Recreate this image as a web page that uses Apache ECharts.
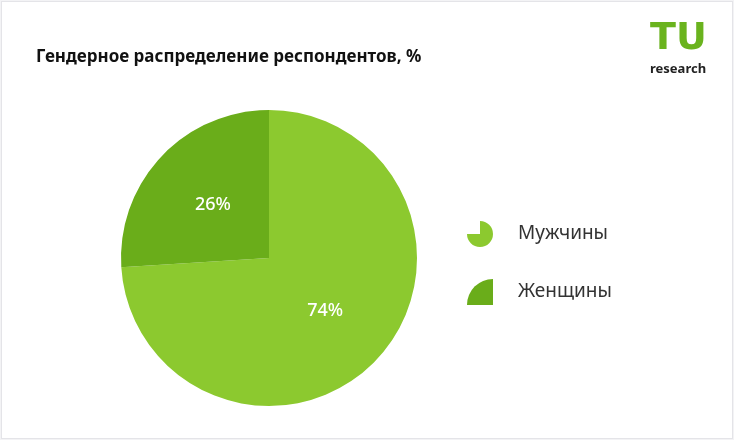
<!DOCTYPE html>
<html><head><meta charset="utf-8">
<script src="https://cdn.jsdelivr.net/npm/echarts@6/dist/echarts.min.js"></script>
<style>
html,body{margin:0;padding:0;background:#f3f3f5;}
#mybox{position:absolute;left:1px;top:1px;width:730px;height:436px;background:#fff;border:1px solid #e4e4e8;}
</style></head><body>
<div id="mybox"></div>
<script>
var categories = ['Мужчины', 'Женщины'];
var values = [74, 26];
var colors = ['#8cc92f', '#6aad1a'];

var icons = [
    'path://M10,10 L0,10 A10,10 0 1 0 10,0 Z',
    'path://M20,20 L0,20 A20,20 0 0 1 20,0 Z'
];

var mycharts = echarts.init(document.getElementById('mybox'));

var optionObj = {
    title: {
        text: 'Гендерное распределение респондентов, %',
        left: 29,
        top: 42,
        textStyle: { fontFamily: 'Noto Sans', fontSize: 17, fontWeight: 'bold', color: '#111' }
    },
    legend: {
        orient: 'vertical',
        left: 460,
        top: 214,
        itemGap: 32,
        itemWidth: 26,
        itemHeight: 26,
        textStyle: { fontFamily: 'Noto Sans', fontSize: 19, color: '#333', padding: [0, 0, 0, 20] },
        data: categories.map(function (c, i) { return { name: c, icon: icons[i] }; })
    },
    graphic: [
        { type: 'text', left: 648, top: 18, style: { text: 'TU', fontFamily: 'DejaVu Sans', fontWeight: 'bold', fontSize: 38, fill: '#6ab31e' } },
        { type: 'text', left: 648, top: 61, style: { text: 'research', fontFamily: 'Noto Sans', fontWeight: 'bold', fontSize: 13, fill: '#222' } }
    ],
    series: [{
        type: 'pie',
        center: [267, 256],
        radius: ['0%', 148],
        startAngle: 90,
        clockwise: true,
        label: {
            position: 'inside',
            formatter: '{c}%',
            fontFamily: 'Noto Sans',
            fontSize: 18,
            fontWeight: 500,
            color: '#fff'
        },
        labelLine: { show: false },
        emphasis: { disabled: true },
        data: categories.map(function (c, i) {
            return { name: c, value: values[i], itemStyle: { color: colors[i] } };
        })
    }]
};

mycharts.setOption(optionObj);
</script>
</body></html>
